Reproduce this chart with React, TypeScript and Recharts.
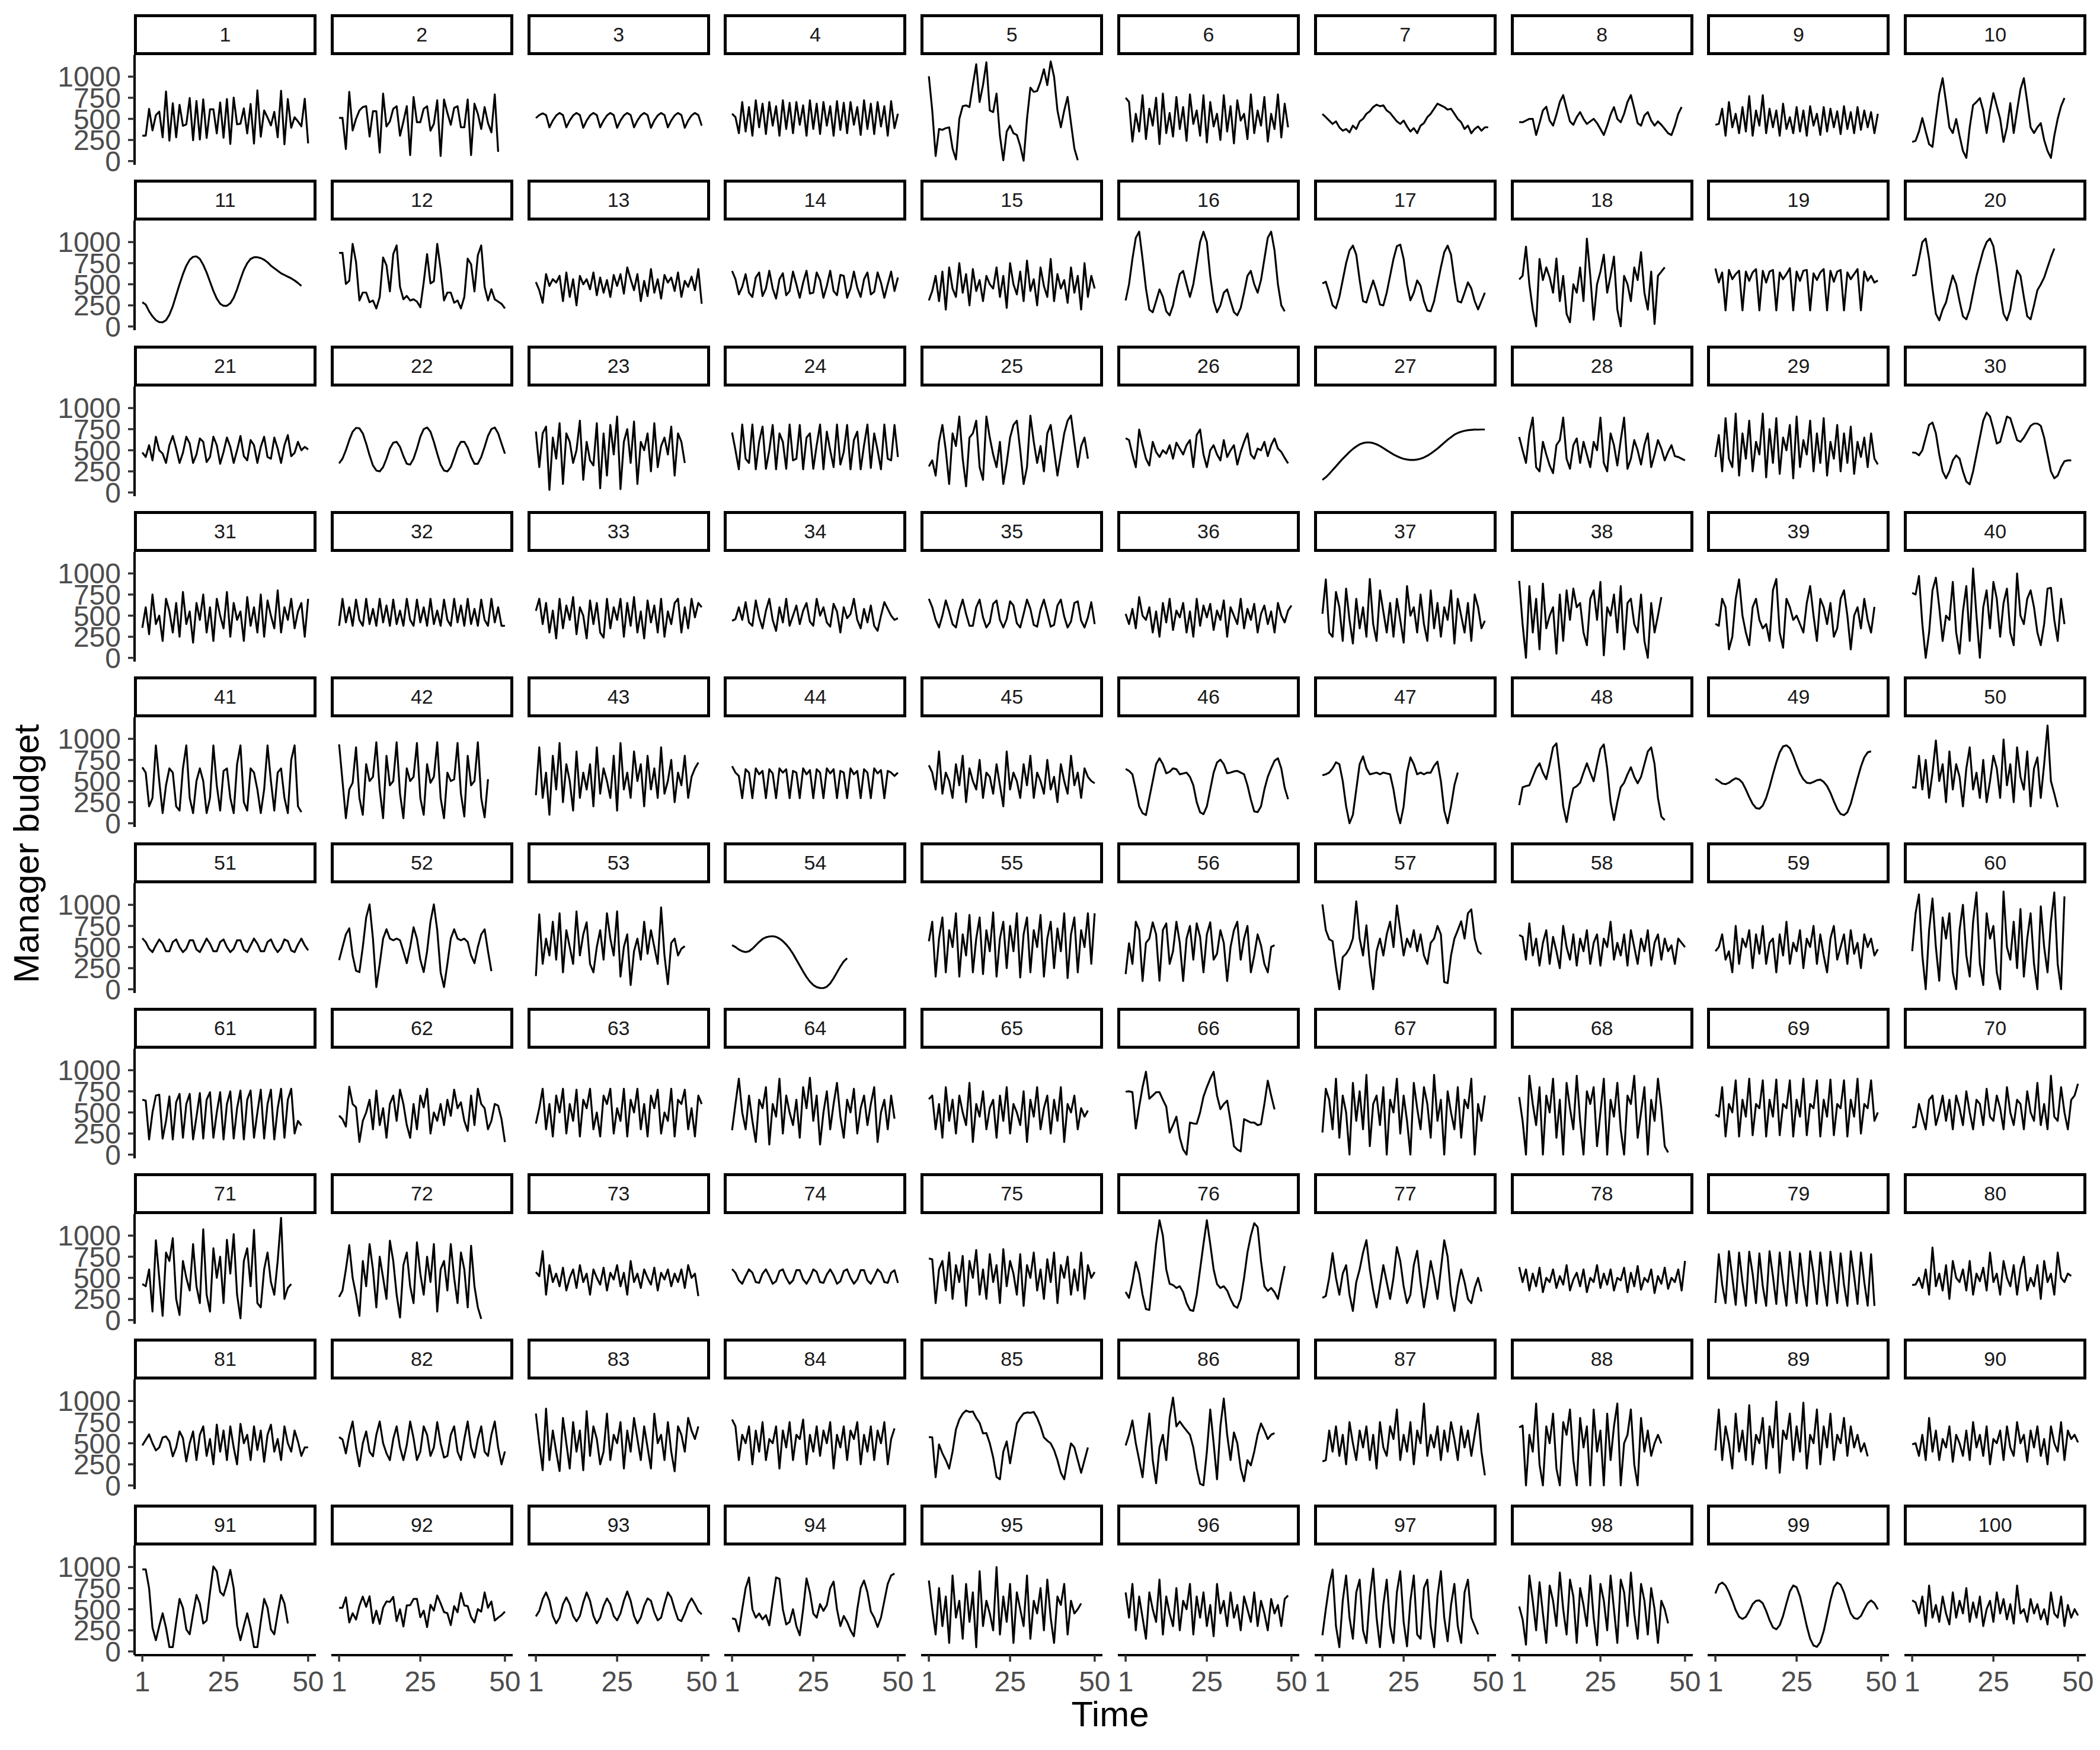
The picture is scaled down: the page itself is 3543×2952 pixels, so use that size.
import { LineChart, Line, XAxis, YAxis } from "recharts";

// values, one array per panel (index = time step 1..n)
const p1 = [301, 301, 618, 363, 543, 586, 282, 825, 242, 685, 282, 667, 417, 435, 747, 247, 712, 255, 731, 274, 613, 613, 328, 694, 277, 734, 202, 753, 435, 443, 624, 328, 677, 207, 839, 288, 600, 516, 422, 583, 282, 833, 199, 734, 395, 519, 470, 411, 739, 210];
const p2 = [511, 511, 142, 820, 363, 500, 600, 640, 650, 290, 590, 590, 100, 800, 410, 470, 620, 650, 300, 470, 650, 70, 760, 460, 460, 620, 650, 360, 440, 720, 60, 730, 570, 430, 630, 650, 400, 400, 730, 70, 680, 560, 380, 640, 450, 340, 790, 110];
const p3 = [510, 545, 565, 545, 400, 480, 540, 570, 545, 400, 480, 540, 570, 545, 395, 480, 540, 570, 545, 400, 480, 540, 570, 545, 395, 480, 540, 570, 545, 400, 480, 540, 570, 545, 395, 480, 540, 570, 545, 400, 480, 540, 570, 545, 395, 480, 540, 570, 545, 420];
const p4 = [560, 520, 330, 700, 350, 640, 300, 720, 400, 680, 320, 700, 420, 650, 300, 720, 380, 690, 330, 700, 430, 660, 300, 720, 380, 680, 320, 700, 420, 650, 300, 710, 370, 690, 330, 700, 430, 640, 310, 720, 380, 680, 320, 700, 410, 650, 300, 710, 390, 560];
const p5 = [1005, 600, 60, 380, 370, 390, 400, 150, 20, 500, 650, 660, 640, 900, 1147, 700, 900, 1170, 600, 580, 800, 300, 10, 350, 420, 330, 310, 180, 5, 500, 870, 820, 830, 940, 1088, 900, 1180, 1000, 600, 400, 600, 760, 450, 150, 10];
const p6 = [750, 700, 230, 560, 350, 780, 260, 620, 420, 750, 200, 800, 330, 570, 290, 760, 380, 640, 240, 790, 440, 600, 300, 780, 220, 700, 410, 560, 250, 780, 350, 650, 210, 720, 480, 560, 260, 790, 330, 600, 420, 760, 230, 560, 380, 790, 280, 680, 400];
const p7 = [557, 520, 480, 440, 470, 400, 360, 380, 340, 420, 380, 470, 500, 560, 590, 640, 668, 650, 660, 600, 570, 520, 470, 440, 480, 410, 350, 390, 330, 420, 450, 520, 560, 620, 680, 660, 640, 610, 620, 560, 500, 460, 380, 420, 330, 380, 410, 360, 400, 400];
const p8 = [463, 460, 480, 500, 500, 309, 450, 600, 644, 480, 420, 550, 700, 781, 620, 470, 430, 520, 580, 500, 440, 470, 500, 450, 380, 309, 420, 550, 640, 500, 460, 560, 700, 781, 620, 450, 420, 540, 580, 480, 420, 470, 430, 380, 330, 309, 420, 560, 640];
const p9 = [430, 440, 620, 300, 700, 400, 560, 330, 640, 350, 770, 300, 600, 420, 780, 330, 620, 400, 600, 300, 680, 380, 520, 330, 640, 350, 600, 300, 650, 420, 560, 310, 640, 350, 620, 400, 590, 320, 650, 380, 580, 330, 640, 370, 600, 400, 580, 330, 560];
const p10 = [227, 240, 350, 510, 350, 200, 168, 500, 800, 982, 700, 400, 333, 498, 300, 120, 38, 400, 663, 700, 746, 600, 333, 600, 805, 650, 500, 227, 400, 687, 333, 600, 850, 982, 700, 400, 333, 400, 450, 250, 120, 38, 300, 500, 650, 746];

const p11 = [287, 260, 180, 120, 75, 52, 50, 75, 140, 240, 370, 500, 620, 720, 790, 825, 830, 800, 730, 640, 530, 420, 330, 270, 245, 245, 275, 340, 440, 560, 670, 750, 800, 820, 820, 810, 790, 760, 720, 690, 660, 630, 610, 590, 570, 545, 515, 480];
const p12 = [872, 872, 504, 541, 978, 764, 308, 402, 402, 287, 308, 214, 349, 817, 724, 415, 858, 960, 469, 322, 362, 308, 322, 295, 228, 523, 858, 510, 536, 978, 683, 308, 402, 402, 281, 308, 214, 349, 804, 737, 415, 844, 960, 469, 308, 442, 322, 295, 268, 214];
const p13 = [526, 430, 280, 620, 480, 560, 520, 600, 300, 640, 350, 560, 250, 600, 500, 560, 440, 640, 370, 580, 400, 550, 350, 610, 480, 620, 390, 700, 560, 430, 620, 300, 540, 360, 680, 400, 560, 330, 610, 520, 580, 420, 640, 350, 540, 470, 590, 430, 680, 270];
const p14 = [658, 560, 380, 470, 620, 400, 350, 580, 640, 360, 450, 660, 450, 330, 560, 630, 370, 420, 650, 500, 340, 520, 660, 390, 400, 640, 550, 340, 480, 660, 420, 370, 610, 600, 340, 450, 650, 460, 350, 560, 640, 380, 410, 640, 520, 340, 500, 650, 420, 580];
const p15 = [309, 420, 600, 300, 650, 200, 700, 450, 350, 750, 400, 620, 250, 680, 420, 550, 300, 600, 500, 450, 700, 350, 600, 220, 750, 500, 380, 650, 300, 780, 420, 560, 250, 700, 480, 350, 800, 300, 620, 450, 550, 280, 700, 400, 600, 200, 750, 350, 600, 450];
const p16 = [309, 500, 800, 1050, 1123, 800, 450, 200, 168, 300, 439, 350, 180, 132, 250, 450, 620, 658, 500, 350, 500, 750, 1000, 1123, 1000, 600, 300, 168, 250, 400, 439, 300, 170, 132, 220, 400, 600, 658, 500, 400, 550, 800, 1050, 1123, 900, 500, 250, 180];
const p17 = [510, 530, 400, 250, 215, 350, 550, 750, 900, 958, 850, 550, 300, 285, 420, 545, 420, 260, 250, 400, 600, 800, 950, 970, 800, 500, 309, 400, 545, 480, 300, 190, 180, 300, 500, 700, 880, 958, 850, 550, 300, 285, 400, 522, 450, 300, 203, 300, 400];
const p18 = [557, 600, 946, 500, 200, 2, 800, 550, 700, 580, 400, 805, 300, 600, 150, 50, 500, 400, 700, 300, 1041, 600, 80, 500, 650, 850, 400, 600, 828, 200, 2, 600, 500, 300, 700, 550, 880, 400, 200, 650, 30, 600, 650, 700];
const p19 = [687, 522, 640, 191, 670, 560, 620, 660, 191, 650, 540, 640, 680, 191, 660, 520, 650, 670, 191, 640, 560, 620, 690, 191, 650, 540, 660, 670, 191, 630, 550, 640, 680, 191, 660, 530, 650, 670, 191, 640, 560, 620, 680, 191, 650, 540, 600, 520, 545];
const p20 = [604, 610, 800, 1000, 1041, 800, 450, 150, 73, 200, 286, 450, 604, 500, 300, 120, 85, 200, 400, 600, 750, 900, 1000, 1041, 950, 700, 400, 150, 73, 200, 450, 663, 600, 350, 120, 85, 250, 430, 498, 580, 700, 820, 923];

const p21 = [474, 420, 560, 380, 660, 500, 460, 350, 560, 670, 520, 350, 470, 660, 580, 350, 450, 640, 600, 360, 420, 660, 560, 340, 480, 650, 540, 350, 500, 670, 430, 380, 620, 560, 350, 540, 660, 420, 400, 650, 520, 350, 560, 680, 430, 470, 600, 500, 540, 510];
const p22 = [345, 400, 500, 620, 720, 765, 760, 700, 580, 440, 320, 260, 250, 300, 400, 520, 590, 600, 540, 430, 340, 330, 400, 520, 660, 750, 770, 720, 600, 460, 330, 260, 250, 300, 410, 530, 600, 600, 530, 420, 340, 340, 420, 540, 670, 750, 770, 700, 580, 460];
const p23 = [722, 300, 700, 780, 30, 650, 400, 820, 100, 700, 600, 350, 500, 850, 150, 600, 380, 320, 820, 50, 700, 200, 800, 450, 900, 40, 600, 750, 350, 840, 100, 600, 500, 700, 250, 820, 300, 550, 650, 450, 780, 200, 700, 600, 350];
const p24 = [710, 500, 274, 805, 400, 350, 805, 274, 600, 780, 280, 500, 800, 274, 700, 600, 280, 805, 380, 400, 800, 274, 650, 700, 280, 560, 805, 274, 720, 500, 300, 805, 330, 480, 800, 274, 620, 720, 274, 560, 805, 290, 700, 500, 274, 805, 400, 380, 800, 420];
const p25 = [309, 380, 200, 600, 800, 500, 100, 700, 550, 900, 400, 73, 650, 700, 850, 300, 150, 900, 650, 450, 300, 600, 100, 350, 650, 800, 850, 500, 100, 300, 911, 600, 350, 550, 250, 700, 800, 500, 200, 450, 700, 850, 911, 600, 300, 550, 650, 400];
const p26 = [644, 620, 450, 300, 746, 560, 400, 320, 600, 480, 420, 500, 460, 560, 400, 590, 520, 450, 560, 620, 300, 680, 746, 450, 300, 500, 560, 450, 380, 620, 420, 500, 560, 330, 480, 600, 700, 450, 400, 520, 500, 600, 430, 560, 640, 520, 480, 410, 345];
const p27 = [149, 180, 220, 265, 310, 355, 400, 440, 480, 515, 545, 570, 585, 592, 592, 585, 570, 550, 525, 500, 475, 450, 430, 412, 398, 390, 385, 385, 390, 400, 415, 435, 460, 490, 520, 555, 590, 625, 655, 685, 705, 720, 730, 738, 742, 745, 744, 746, 746];
const p28 = [658, 500, 350, 700, 887, 300, 250, 600, 450, 320, 230, 560, 620, 887, 400, 280, 560, 640, 350, 600, 450, 300, 600, 500, 887, 350, 250, 700, 560, 320, 620, 887, 280, 400, 620, 500, 330, 560, 700, 300, 450, 620, 520, 380, 480, 560, 430, 420, 400, 380];
const p29 = [420, 680, 250, 880, 400, 300, 934, 200, 700, 400, 850, 250, 600, 450, 934, 180, 750, 350, 880, 220, 650, 500, 800, 168, 900, 300, 620, 450, 850, 250, 700, 350, 880, 200, 600, 400, 800, 250, 700, 350, 780, 220, 600, 420, 650, 300, 700, 400, 333];
const p30 = [474, 470, 440, 500, 650, 800, 828, 700, 450, 250, 168, 250, 380, 439, 400, 250, 130, 97, 250, 450, 650, 850, 946, 900, 750, 580, 600, 750, 899, 880, 750, 620, 600, 650, 720, 790, 816, 816, 790, 650, 450, 250, 168, 200, 300, 370, 380, 380];

const p31 = [356, 600, 280, 750, 400, 500, 200, 700, 550, 300, 650, 250, 780, 400, 550, 180, 650, 450, 750, 300, 600, 200, 700, 500, 350, 780, 250, 650, 450, 550, 200, 720, 380, 600, 300, 750, 250, 680, 500, 350, 800, 300, 600, 450, 700, 350, 550, 650, 250, 700];
const p32 = [380, 700, 420, 600, 380, 690, 450, 380, 700, 400, 580, 380, 700, 420, 620, 380, 690, 400, 560, 380, 700, 450, 380, 690, 420, 600, 380, 700, 400, 560, 380, 690, 450, 380, 700, 420, 620, 380, 700, 400, 580, 380, 690, 450, 380, 700, 420, 600, 380, 380];
const p33 = [557, 700, 400, 650, 300, 560, 230, 700, 350, 620, 450, 720, 280, 600, 500, 230, 680, 400, 650, 300, 240, 700, 350, 600, 450, 700, 250, 650, 380, 720, 300, 550, 230, 680, 420, 620, 300, 700, 250, 550, 400, 650, 700, 300, 600, 350, 700, 480, 650, 600];
const p34 = [439, 460, 600, 450, 660, 420, 380, 680, 480, 350, 560, 700, 450, 320, 600, 420, 700, 380, 500, 620, 400, 560, 650, 430, 380, 700, 500, 600, 420, 370, 640, 550, 300, 600, 470, 520, 700, 450, 350, 580, 420, 620, 380, 320, 500, 660, 580, 500, 450, 470];
const p35 = [700, 600, 450, 360, 500, 680, 550, 400, 360, 560, 690, 520, 380, 380, 600, 690, 480, 360, 420, 640, 680, 450, 360, 460, 670, 620, 410, 360, 520, 690, 580, 390, 370, 570, 690, 530, 370, 390, 620, 690, 490, 360, 430, 650, 670, 440, 360, 480, 660, 400];
const p36 = [522, 400, 580, 350, 720, 500, 450, 600, 300, 550, 250, 650, 420, 700, 330, 560, 480, 650, 300, 550, 250, 700, 380, 620, 480, 640, 330, 560, 450, 680, 250, 600, 500, 400, 700, 350, 580, 450, 640, 300, 520, 620, 400, 550, 300, 650, 500, 420, 560, 620];
const p37 = [522, 930, 300, 250, 780, 600, 200, 820, 450, 170, 700, 350, 600, 250, 934, 400, 200, 800, 550, 300, 650, 250, 700, 450, 180, 850, 500, 600, 300, 750, 400, 200, 800, 350, 650, 250, 600, 450, 800, 170, 700, 500, 300, 650, 200, 750, 600, 350, 439];
const p38 = [911, 400, 0, 850, 300, 700, 100, 880, 350, 500, 600, 50, 750, 200, 800, 450, 820, 600, 650, 300, 150, 700, 800, 450, 900, 30, 600, 500, 750, 300, 850, 100, 650, 700, 400, 300, 750, 200, 0, 650, 300, 500, 720];
const p39 = [403, 380, 700, 600, 100, 250, 700, 930, 500, 300, 150, 600, 700, 450, 350, 400, 200, 800, 934, 300, 120, 700, 600, 450, 500, 400, 300, 650, 850, 500, 200, 700, 600, 400, 650, 250, 350, 700, 800, 500, 100, 500, 600, 350, 700, 450, 300, 604];
const p40 = [770, 750, 970, 400, 0, 300, 800, 950, 600, 200, 500, 450, 900, 300, 50, 550, 850, 200, 1060, 500, 0, 600, 800, 350, 900, 700, 250, 650, 820, 300, 150, 1000, 500, 400, 700, 800, 600, 300, 150, 400, 820, 830, 450, 200, 700, 400];

const p41 = [663, 600, 200, 300, 923, 500, 120, 450, 650, 600, 200, 150, 650, 923, 300, 120, 500, 650, 500, 120, 300, 923, 450, 150, 620, 650, 300, 120, 700, 923, 250, 150, 650, 600, 400, 120, 400, 923, 500, 150, 600, 650, 300, 120, 750, 923, 200, 132];
const p42 = [934, 500, 60, 400, 480, 900, 300, 100, 700, 500, 550, 960, 400, 60, 800, 450, 500, 960, 350, 60, 650, 500, 550, 950, 300, 100, 700, 480, 550, 960, 300, 60, 600, 500, 520, 950, 350, 80, 800, 450, 500, 960, 300, 70, 522];
const p43 = [333, 900, 300, 600, 100, 800, 400, 950, 250, 700, 500, 150, 850, 300, 600, 400, 700, 200, 900, 350, 650, 500, 300, 800, 150, 950, 400, 600, 300, 850, 500, 700, 200, 800, 400, 650, 300, 900, 350, 500, 750, 250, 600, 450, 800, 300, 550, 650, 720];
const p44 = [675, 600, 560, 297, 640, 600, 297, 650, 580, 620, 297, 640, 590, 297, 650, 600, 640, 297, 620, 600, 297, 650, 580, 630, 297, 640, 600, 297, 650, 590, 640, 297, 620, 600, 297, 650, 580, 620, 297, 640, 600, 297, 650, 590, 630, 297, 620, 600, 560, 600];
const p45 = [687, 600, 400, 850, 350, 600, 500, 300, 700, 450, 800, 250, 650, 500, 400, 750, 300, 600, 550, 350, 700, 450, 200, 850, 400, 600, 500, 300, 700, 450, 800, 300, 600, 500, 350, 750, 400, 550, 250, 700, 500, 350, 800, 450, 600, 300, 650, 550, 500, 474];
const p46 = [644, 620, 580, 400, 200, 120, 97, 300, 500, 700, 770, 700, 592, 610, 650, 640, 580, 590, 600, 550, 450, 250, 130, 108, 200, 400, 600, 720, 753, 700, 592, 600, 615, 620, 600, 580, 450, 280, 140, 132, 200, 400, 550, 650, 740, 770, 650, 420, 285];
const p47 = [569, 580, 600, 650, 722, 700, 500, 200, 0, 100, 400, 700, 793, 650, 580, 590, 600, 580, 600, 590, 580, 400, 150, 0, 200, 600, 781, 700, 580, 600, 580, 600, 600, 680, 730, 500, 150, 0, 200, 450, 600];
const p48 = [215, 427, 440, 450, 550, 650, 710, 600, 522, 700, 900, 946, 600, 200, 14, 250, 415, 440, 480, 600, 710, 600, 498, 700, 880, 934, 650, 250, 38, 250, 427, 480, 580, 663, 550, 474, 550, 700, 850, 899, 700, 300, 80, 38];
const p49 = [526, 500, 470, 463, 480, 510, 533, 520, 480, 400, 310, 230, 180, 172, 210, 300, 430, 580, 720, 840, 910, 923, 890, 800, 690, 590, 520, 480, 474, 490, 510, 517, 490, 440, 360, 260, 170, 110, 97, 130, 230, 380, 530, 670, 780, 840, 852];
const p50 = [427, 420, 800, 400, 750, 300, 600, 980, 500, 700, 250, 850, 400, 700, 550, 200, 650, 900, 400, 600, 300, 750, 250, 500, 800, 650, 300, 993, 450, 700, 250, 900, 550, 400, 850, 200, 650, 780, 300, 700, 1158, 500, 350, 191];

const p51 = [604, 560, 480, 440, 520, 590, 540, 450, 450, 560, 590, 500, 440, 480, 580, 580, 470, 440, 520, 600, 540, 450, 450, 560, 590, 500, 440, 480, 580, 580, 470, 440, 520, 600, 540, 450, 450, 560, 590, 500, 440, 490, 590, 570, 460, 440, 530, 600, 520, 460];
const p52 = [345, 500, 650, 722, 400, 220, 203, 500, 850, 1005, 600, 26, 300, 600, 710, 600, 580, 600, 580, 450, 309, 500, 734, 600, 350, 203, 450, 800, 1005, 700, 200, 26, 300, 600, 710, 600, 580, 600, 560, 400, 309, 500, 650, 710, 450, 215];
const p53 = [156, 887, 300, 600, 400, 800, 350, 899, 200, 700, 500, 300, 923, 400, 650, 793, 300, 200, 500, 700, 350, 900, 600, 400, 923, 150, 500, 650, 50, 450, 600, 350, 800, 420, 700, 500, 300, 970, 400, 60, 550, 600, 400, 480, 510];
const p54 = [522, 500, 470, 450, 440, 450, 480, 520, 560, 595, 615, 625, 628, 620, 600, 570, 530, 480, 420, 350, 280, 210, 145, 90, 50, 25, 15, 14, 30, 70, 130, 200, 270, 330, 368];
const p55 = [569, 800, 150, 600, 850, 200, 700, 500, 900, 150, 650, 400, 880, 200, 600, 850, 180, 700, 450, 911, 150, 600, 800, 250, 750, 450, 900, 140, 650, 850, 200, 700, 500, 880, 150, 600, 800, 250, 720, 450, 900, 132, 650, 850, 200, 700, 500, 900, 300, 899];
const p56 = [180, 545, 300, 800, 700, 97, 550, 600, 793, 650, 100, 700, 780, 300, 450, 800, 550, 97, 600, 750, 350, 780, 620, 200, 650, 793, 350, 420, 700, 550, 97, 500, 700, 800, 350, 600, 750, 200, 400, 650, 520, 300, 200, 500, 522];
const p57 = [1005, 700, 592, 569, 262, 0, 380, 420, 486, 600, 1041, 600, 400, 757, 300, 0, 450, 600, 400, 650, 800, 500, 993, 700, 400, 600, 500, 700, 450, 650, 400, 300, 550, 600, 750, 650, 85, 73, 400, 600, 700, 805, 600, 900, 946, 600, 450, 415];
const p58 = [644, 620, 350, 780, 400, 600, 280, 550, 700, 300, 620, 450, 250, 750, 500, 350, 650, 280, 600, 450, 700, 300, 550, 650, 280, 600, 500, 800, 350, 550, 400, 650, 280, 700, 500, 300, 600, 450, 700, 280, 550, 650, 350, 600, 450, 520, 300, 600, 550, 498];
const p59 = [451, 500, 650, 350, 450, 200, 750, 300, 600, 500, 700, 250, 650, 420, 750, 300, 550, 600, 200, 650, 400, 800, 300, 550, 450, 700, 250, 600, 500, 750, 300, 650, 400, 200, 600, 750, 350, 500, 650, 300, 700, 420, 550, 250, 650, 500, 600, 400, 474];
const p60 = [451, 900, 1123, 400, 0, 700, 1076, 500, 100, 850, 600, 900, 200, 0, 700, 1000, 400, 150, 800, 1147, 300, 50, 900, 600, 750, 200, 0, 1158, 500, 350, 800, 250, 950, 150, 600, 900, 300, 0, 982, 500, 200, 800, 1147, 300, 0, 1100];

const p61 = [651, 640, 180, 500, 700, 710, 190, 400, 690, 180, 620, 720, 200, 600, 720, 180, 450, 730, 190, 650, 740, 200, 500, 740, 180, 600, 750, 190, 550, 760, 180, 650, 760, 200, 500, 770, 190, 600, 770, 180, 550, 780, 200, 650, 780, 250, 400, 345];
const p62 = [463, 420, 333, 805, 600, 560, 150, 400, 500, 650, 300, 760, 350, 550, 200, 600, 700, 400, 770, 600, 350, 200, 600, 300, 700, 560, 780, 250, 500, 400, 600, 350, 650, 460, 770, 550, 620, 400, 280, 700, 350, 780, 600, 550, 300, 400, 600, 580, 420, 149];
const p63 = [368, 550, 781, 300, 600, 215, 700, 500, 781, 250, 600, 400, 770, 215, 650, 550, 781, 300, 500, 215, 700, 600, 781, 250, 550, 400, 780, 215, 650, 500, 781, 300, 600, 215, 700, 550, 770, 250, 500, 400, 781, 215, 650, 600, 770, 300, 550, 215, 700, 600];
const p64 = [290, 600, 900, 500, 300, 700, 400, 150, 650, 550, 800, 120, 600, 450, 900, 250, 700, 500, 350, 650, 200, 800, 550, 911, 400, 700, 120, 500, 750, 300, 600, 850, 450, 200, 650, 500, 780, 250, 550, 700, 350, 600, 800, 150, 500, 650, 300, 700, 427];
const p65 = [658, 700, 300, 600, 200, 800, 400, 650, 250, 700, 500, 350, 850, 150, 600, 450, 750, 300, 550, 650, 200, 700, 400, 800, 250, 600, 500, 350, 750, 150, 650, 450, 800, 300, 550, 700, 250, 650, 400, 800, 150, 600, 500, 700, 300, 550, 450, 522];
const p66 = [746, 750, 740, 309, 569, 800, 982, 663, 700, 740, 740, 650, 569, 262, 350, 450, 200, 60, 0, 380, 370, 365, 500, 687, 800, 900, 982, 700, 540, 600, 640, 400, 100, 60, 38, 420, 400, 380, 380, 350, 360, 600, 876, 700, 536];
const p67 = [262, 780, 650, 300, 900, 200, 700, 500, 0, 850, 400, 750, 300, 946, 100, 600, 700, 350, 800, 0, 650, 500, 900, 250, 700, 400, 0, 850, 550, 300, 800, 600, 200, 946, 400, 650, 0, 750, 500, 300, 800, 200, 650, 550, 900, 0, 600, 400, 700];
const p68 = [682, 400, 0, 934, 600, 350, 800, 0, 700, 500, 900, 200, 650, 0, 850, 550, 300, 934, 400, 0, 750, 600, 800, 100, 500, 900, 0, 650, 450, 850, 300, 0, 700, 600, 934, 200, 500, 800, 0, 650, 400, 900, 550, 100, 26];
const p69 = [474, 450, 800, 215, 600, 500, 880, 215, 650, 450, 899, 230, 600, 550, 880, 215, 650, 450, 890, 230, 600, 550, 880, 215, 650, 450, 899, 230, 600, 550, 880, 215, 650, 450, 890, 230, 600, 550, 880, 215, 650, 450, 899, 250, 600, 550, 880, 400, 500];
const p70 = [321, 330, 600, 450, 300, 650, 700, 350, 500, 700, 400, 650, 300, 700, 550, 350, 750, 500, 300, 650, 600, 350, 780, 450, 400, 700, 550, 300, 800, 500, 350, 650, 600, 300, 750, 500, 400, 850, 350, 600, 300, 934, 450, 400, 800, 500, 300, 650, 700, 840];

const p71 = [427, 400, 600, 100, 946, 500, 50, 800, 700, 970, 250, 60, 700, 500, 350, 900, 400, 200, 1076, 300, 100, 850, 500, 750, 200, 950, 550, 1017, 300, 20, 700, 850, 400, 1069, 200, 150, 600, 800, 450, 300, 700, 1211, 250, 380, 427];
const p72 = [274, 350, 600, 887, 500, 300, 50, 700, 400, 900, 600, 150, 750, 500, 250, 940, 700, 300, 30, 650, 800, 400, 200, 920, 550, 300, 750, 450, 900, 100, 600, 700, 350, 900, 500, 200, 800, 600, 150, 880, 400, 150, 14];
const p73 = [569, 520, 816, 300, 650, 450, 550, 400, 620, 350, 500, 600, 380, 650, 450, 550, 300, 600, 500, 420, 620, 350, 560, 480, 650, 400, 560, 300, 700, 450, 550, 380, 600, 500, 420, 620, 350, 560, 480, 600, 400, 550, 450, 600, 380, 650, 500, 550, 285];
const p74 = [604, 560, 470, 430, 520, 600, 560, 450, 440, 550, 600, 520, 430, 460, 580, 600, 500, 430, 470, 590, 590, 480, 430, 500, 600, 570, 450, 440, 540, 600, 530, 430, 460, 580, 600, 500, 430, 480, 590, 590, 470, 430, 510, 600, 560, 450, 440, 560, 590, 439];
const p75 = [729, 720, 200, 600, 700, 350, 800, 250, 650, 450, 760, 168, 700, 500, 830, 300, 600, 250, 780, 450, 650, 200, 840, 400, 700, 550, 300, 780, 168, 650, 500, 800, 350, 600, 250, 720, 450, 800, 200, 650, 500, 750, 300, 600, 350, 800, 250, 650, 500, 569];
const p76 = [333, 262, 450, 687, 550, 300, 130, 120, 500, 900, 1182, 1000, 600, 430, 415, 380, 400, 330, 200, 120, 108, 300, 600, 900, 1182, 900, 600, 427, 380, 400, 350, 250, 170, 144, 250, 500, 800, 1000, 1147, 1100, 700, 400, 345, 380, 330, 250, 450, 640];
const p77 = [262, 285, 500, 793, 500, 300, 550, 650, 300, 108, 450, 600, 800, 946, 600, 350, 150, 400, 650, 450, 250, 500, 864, 700, 400, 200, 300, 650, 820, 450, 150, 400, 700, 500, 250, 600, 946, 750, 300, 108, 400, 600, 450, 250, 200, 380, 500, 337];
const p78 = [628, 450, 600, 350, 550, 400, 620, 330, 500, 450, 600, 380, 520, 420, 650, 350, 480, 560, 400, 600, 330, 500, 450, 650, 380, 550, 420, 600, 350, 500, 470, 620, 330, 560, 400, 640, 360, 500, 450, 600, 320, 520, 430, 620, 370, 500, 450, 600, 350, 700];
const p79 = [203, 780, 420, 200, 816, 500, 180, 800, 450, 168, 810, 550, 200, 790, 400, 168, 816, 520, 190, 800, 450, 170, 810, 500, 200, 790, 430, 168, 816, 550, 190, 800, 450, 170, 810, 500, 200, 790, 420, 168, 816, 520, 190, 800, 450, 170, 780, 168];
const p80 = [415, 420, 500, 380, 600, 300, 860, 400, 550, 350, 650, 250, 700, 500, 450, 600, 350, 700, 300, 550, 460, 620, 350, 800, 450, 550, 300, 700, 500, 400, 650, 300, 600, 750, 350, 500, 400, 650, 250, 700, 450, 550, 300, 800, 500, 450, 550, 522];

const p81 = [474, 540, 604, 500, 415, 450, 569, 580, 520, 345, 450, 640, 560, 285, 500, 640, 300, 600, 700, 350, 550, 250, 720, 400, 650, 300, 700, 450, 250, 730, 500, 600, 300, 700, 420, 650, 280, 600, 720, 400, 550, 300, 700, 500, 400, 650, 520, 350, 450, 451];
const p82 = [573, 545, 380, 600, 757, 450, 227, 500, 640, 400, 345, 600, 757, 500, 380, 300, 550, 700, 450, 300, 480, 757, 560, 300, 400, 700, 600, 350, 450, 750, 500, 330, 350, 600, 700, 400, 300, 550, 757, 450, 330, 550, 700, 400, 350, 600, 757, 450, 250, 403];
const p83 = [852, 500, 180, 911, 300, 650, 400, 170, 800, 500, 200, 750, 400, 650, 180, 880, 350, 700, 550, 250, 400, 850, 300, 600, 500, 750, 200, 650, 400, 800, 550, 300, 700, 450, 200, 850, 500, 600, 300, 750, 400, 168, 700, 600, 400, 800, 650, 550, 700];
const p84 = [781, 700, 300, 600, 500, 700, 250, 650, 400, 750, 300, 550, 500, 700, 200, 650, 450, 750, 300, 600, 550, 780, 250, 600, 400, 700, 350, 650, 500, 750, 200, 600, 450, 700, 300, 650, 550, 750, 250, 600, 400, 700, 300, 650, 500, 750, 250, 550, 675];
const p85 = [573, 570, 97, 486, 380, 300, 200, 400, 663, 781, 850, 887, 870, 876, 800, 740, 616, 620, 500, 333, 100, 73, 400, 522, 262, 500, 734, 800, 852, 864, 860, 870, 800, 700, 569, 530, 498, 420, 300, 150, 73, 300, 498, 450, 300, 150, 300, 450];
const p86 = [474, 600, 770, 500, 300, 97, 500, 852, 300, 26, 450, 600, 300, 800, 1041, 700, 757, 700, 650, 600, 450, 200, 20, 2, 400, 899, 500, 73, 700, 1029, 600, 300, 628, 500, 200, 50, 300, 238, 400, 600, 734, 650, 550, 600, 620];
const p87 = [285, 300, 650, 400, 700, 350, 600, 250, 750, 500, 300, 650, 450, 700, 300, 600, 200, 750, 450, 350, 700, 550, 900, 300, 600, 400, 750, 250, 650, 500, 970, 350, 600, 450, 700, 300, 650, 400, 750, 550, 300, 700, 450, 650, 350, 600, 850, 400, 120];
const p88 = [687, 710, 0, 600, 400, 970, 250, 0, 700, 500, 850, 200, 0, 750, 600, 900, 300, 0, 800, 450, 700, 0, 900, 400, 650, 0, 850, 300, 700, 970, 0, 500, 600, 900, 250, 0, 800, 400, 650, 350, 500, 600, 498];
const p89 = [415, 900, 300, 700, 500, 200, 850, 400, 650, 300, 950, 250, 600, 500, 800, 200, 700, 450, 993, 150, 650, 550, 850, 300, 700, 400, 980, 200, 600, 500, 900, 250, 700, 450, 850, 300, 600, 500, 800, 350, 700, 450, 600, 400, 500, 345];
const p90 = [486, 500, 350, 600, 300, 800, 400, 650, 300, 550, 450, 700, 280, 600, 500, 350, 650, 300, 750, 450, 600, 350, 700, 250, 550, 500, 650, 300, 700, 450, 350, 750, 500, 600, 280, 650, 450, 700, 350, 550, 250, 700, 500, 400, 750, 300, 650, 550, 600, 510];

const p91 = [972, 972, 750, 284, 133, 300, 452, 280, 51, 51, 350, 622, 517, 261, 203, 450, 669, 568, 331, 366, 700, 1007, 948, 704, 662, 800, 967, 750, 307, 133, 300, 452, 284, 51, 51, 350, 622, 517, 261, 203, 450, 669, 568, 331];
const p92 = [517, 517, 641, 343, 452, 378, 541, 650, 529, 653, 336, 483, 326, 517, 592, 587, 646, 359, 499, 296, 545, 548, 622, 622, 406, 483, 289, 552, 483, 662, 569, 466, 452, 312, 536, 464, 692, 545, 536, 406, 343, 501, 471, 699, 517, 592, 366, 400, 430, 471];
const p93 = [415, 480, 620, 699, 600, 420, 333, 400, 560, 640, 560, 420, 357, 420, 580, 699, 600, 420, 333, 400, 540, 628, 560, 420, 368, 450, 600, 710, 600, 420, 333, 400, 540, 628, 600, 460, 368, 400, 560, 699, 640, 500, 380, 360, 450, 560, 628, 560, 480, 439];
const p94 = [392, 380, 238, 500, 750, 876, 500, 400, 450, 380, 430, 309, 600, 876, 860, 500, 320, 350, 500, 300, 191, 500, 864, 700, 450, 400, 560, 480, 550, 750, 828, 500, 300, 420, 350, 250, 180, 500, 750, 840, 700, 474, 400, 290, 400, 600, 800, 900, 923];
const p95 = [840, 500, 200, 750, 300, 650, 100, 900, 400, 600, 150, 800, 350, 700, 50, 950, 300, 600, 450, 250, 1000, 200, 650, 350, 800, 100, 700, 500, 300, 900, 150, 600, 450, 750, 250, 850, 400, 100, 650, 550, 800, 200, 600, 450, 500, 569];
const p96 = [699, 400, 800, 250, 650, 400, 150, 700, 500, 350, 850, 200, 650, 450, 300, 750, 250, 600, 500, 800, 200, 650, 400, 700, 300, 550, 180, 800, 450, 600, 300, 700, 400, 550, 250, 650, 500, 350, 700, 300, 600, 450, 250, 620, 450, 550, 300, 620, 663];
const p97 = [191, 500, 780, 970, 300, 50, 600, 900, 400, 150, 700, 850, 250, 100, 650, 980, 400, 50, 550, 850, 300, 100, 700, 950, 350, 60, 600, 900, 200, 150, 750, 850, 300, 50, 650, 950, 400, 120, 550, 800, 300, 100, 700, 850, 400, 300, 203];
const p98 = [533, 380, 80, 900, 600, 250, 820, 450, 100, 780, 600, 300, 934, 500, 200, 850, 650, 100, 750, 550, 300, 900, 400, 73, 800, 600, 250, 900, 500, 100, 850, 700, 300, 934, 450, 150, 800, 600, 200, 750, 500, 100, 600, 500, 333];
const p99 = [687, 790, 816, 780, 700, 600, 490, 410, 385, 410, 480, 560, 600, 604, 570, 480, 370, 285, 262, 310, 420, 570, 710, 781, 760, 650, 480, 300, 150, 70, 54, 110, 240, 420, 610, 760, 816, 790, 700, 570, 450, 395, 385, 420, 500, 570, 604, 570, 498];
const p100 = [604, 580, 450, 650, 300, 780, 400, 550, 350, 650, 450, 320, 700, 400, 600, 450, 750, 350, 580, 400, 650, 300, 500, 600, 350, 700, 450, 620, 380, 560, 330, 780, 450, 500, 350, 620, 450, 560, 380, 500, 320, 700, 450, 400, 650, 300, 550, 400, 500, 427];

const panels = [
  p1, p2, p3, p4, p5, p6, p7, p8, p9, p10,
  p11, p12, p13, p14, p15, p16, p17, p18, p19, p20,
  p21, p22, p23, p24, p25, p26, p27, p28, p29, p30,
  p31, p32, p33, p34, p35, p36, p37, p38, p39, p40,
  p41, p42, p43, p44, p45, p46, p47, p48, p49, p50,
  p51, p52, p53, p54, p55, p56, p57, p58, p59, p60,
  p61, p62, p63, p64, p65, p66, p67, p68, p69, p70,
  p71, p72, p73, p74, p75, p76, p77, p78, p79, p80,
  p81, p82, p83, p84, p85, p86, p87, p88, p89, p90,
  p91, p92, p93, p94, p95, p96, p97, p98, p99, p100,
];

const yTicks = [0, 250, 500, 750, 1000];
const xTicks = [1, 25, 50];
const xTitle = "Time";
const yTitle = "Manager budget";

const FONT = '"Liberation Sans", Arial, Helvetica, sans-serif';
const NCOL = 10;
const COL0 = 227;
const COL_STEP = 331.8;
const PANEL_W = 306;
const ROW0 = 93;
const ROW_STEP = 279.3;
const PANEL_H = 185;
const STRIP_H = 69;
const Y_AXIS_W = 200;
const X_AXIS_H = 80;

const tickText = { fill: "#4D4D4D", fontSize: 48, fontFamily: FONT };

function Panel({ values, index }: { values: number[]; index: number }) {
  const r = Math.floor(index / NCOL);
  const c = index % NCOL;
  const showY = c === 0;
  const showX = r === 9;
  const plotLeft = COL0 + COL_STEP * c;
  const plotTop = ROW0 + ROW_STEP * r;
  const data = values.map((v, k) => ({ t: k + 1, v }));

  return (
    <>
      <div
        style={{
          position: "absolute",
          left: plotLeft - 1,
          top: plotTop - STRIP_H,
          width: PANEL_W + 2,
          height: STRIP_H,
          border: "5px solid #000",
          boxSizing: "border-box",
          display: "flex",
          alignItems: "center",
          justifyContent: "center",
          fontSize: 34,
          color: "#1A1A1A",
        }}
      >
        {index + 1}
      </div>
      <div style={{ position: "absolute", left: plotLeft - (showY ? Y_AXIS_W : 0), top: plotTop }}>
        <LineChart
          width={PANEL_W + (showY ? Y_AXIS_W : 0)}
          height={PANEL_H + (showX ? X_AXIS_H : 0)}
          data={data}
          margin={{ top: 0, right: 0, bottom: 0, left: 0 }}
          style={{ overflow: "visible" }}
        >
          <XAxis
            dataKey="t"
            type="number"
            domain={[-1.3, 52.3]}
            allowDataOverflow
            ticks={xTicks}
            interval={0}
            hide={!showX}
            height={X_AXIS_H}
            tickSize={11}
            tickMargin={16}
            axisLine={{ stroke: "#000", strokeWidth: 4 }}
            tickLine={{ stroke: "#333", strokeWidth: 3.5 }}
            tick={tickText}
          />
          <YAxis
            type="number"
            domain={[-44, 1255]}
            allowDataOverflow
            ticks={yTicks}
            interval={0}
            hide={!showY}
            width={Y_AXIS_W}
            tickSize={11}
            tickMargin={12}
            axisLine={{ stroke: "#000", strokeWidth: 4 }}
            tickLine={{ stroke: "#333", strokeWidth: 3.5 }}
            tick={tickText}
          />
          <Line
            dataKey="v"
            type="linear"
            stroke="#000"
            strokeWidth={3.2}
            strokeLinejoin="round"
            dot={false}
            isAnimationActive={false}
          />
        </LineChart>
      </div>
    </>
  );
}

export default function App() {
  return (
    <div
      style={{
        position: "absolute",
        left: 0,
        top: 0,
        width: 3543,
        height: 2952,
        background: "#fff",
        fontFamily: FONT,
        overflow: "hidden",
      }}
    >
      <style>{".recharts-wrapper, .recharts-surface { overflow: visible !important; }"}</style>
      {panels.map((values, i) => (
        <Panel key={i} values={values} index={i} />
      ))}
      <div
        style={{
          position: "absolute",
          left: 1873 - 300,
          top: 2892 - 35,
          width: 600,
          height: 70,
          lineHeight: "70px",
          textAlign: "center",
          fontSize: 60,
          color: "#000",
        }}
      >
        {xTitle}
      </div>
      <div
        style={{
          position: "absolute",
          left: 45 - 400,
          top: 1440 - 35,
          width: 800,
          height: 70,
          lineHeight: "70px",
          textAlign: "center",
          fontSize: 60,
          color: "#000",
          transform: "rotate(-90deg)",
        }}
      >
        {yTitle}
      </div>
    </div>
  );
}
